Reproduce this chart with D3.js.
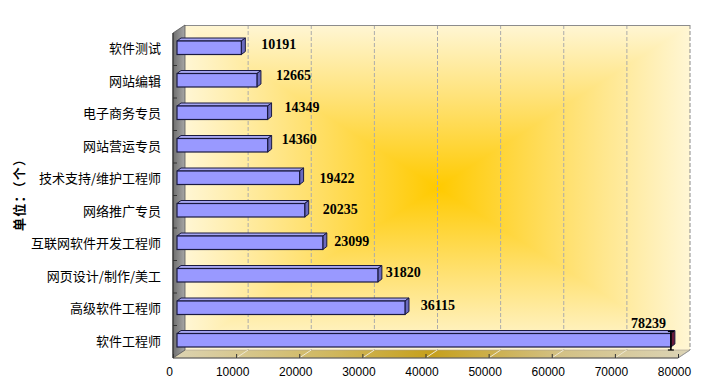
<!DOCTYPE html>
<html><head><meta charset="utf-8">
<script src="https://cdn.jsdelivr.net/npm/d3@7"></script>
<style>body{margin:0;background:#fff}</style>
</head><body>
<svg id="c" width="712" height="382"></svg>
<script>
const categories = ["软件测试","网站编辑","电子商务专员","网站营运专员","技术支持/维护工程师","网络推广专员","互联网软件开发工程师","网页设计/制作/美工","高级软件工程师","软件工程师"];
const values = [10191,12665,14349,14360,19422,20235,23099,31820,36115,78239];
const xTicks = [0,10000,20000,30000,40000,50000,60000,70000,80000];
const axisTitle = "单位：（个）";
// label nudges (layout only)
const labelDx = [16,15,13,10,16,14,7.5,4,11.7,-44];
const labelDy = [-5,-6.5,-7,-7.5,-1,-2.5,-2.3,-4.5,-3.3,-18.7];

const svg = d3.select("#c");
const defs = svg.append("defs");
const D = {dx:12, dy:-8};
const x = d3.scaleLinear().domain([0,80000]).range([173,678]);
const y = d3.scaleBand().domain(categories).range([33,358]).padding(0);
const L = x(0), R = x(80000), T = y.range()[0], B = y.range()[1];
const bL = L + D.dx, bR = R + D.dx, bT = T + D.dy, bB = B + D.dy;
const cx = (bL+bR)/2, cy = (bT+bB)/2;

function lg(id, x1,y1,x2,y2, stops){
  const g = defs.append("linearGradient").attr("id",id).attr("gradientUnits","userSpaceOnUse")
    .attr("x1",x1).attr("y1",y1).attr("x2",x2).attr("y2",y2);
  stops.forEach(s=>g.append("stop").attr("offset",s[0]).attr("stop-color",s[1]));
}
const cC = "#FFCA00", cE = "#FFF6D4";
const wst = [[0,cC],[0.55,"#FFE277"],[1,cE]];
lg("gT",cx,cy,cx,bT,wst); lg("gB",cx,cy,cx,bB,wst);
lg("gL",cx,cy,bL,cy,wst); lg("gR",cx,cy,bR,cy,wst);
lg("gH",bL,0,bR,0,[[0,cE],[0.225,"#FFE277"],[0.5,cC],[0.775,"#FFE277"],[1,cE]]);
lg("gFloor",L,0,bR,0,[[0,"#DCD3B2"],[0.3,"#D0B860"],[0.5,"#C6A01C"],[0.75,"#D3C185"],[1,"#DCD4B6"]]);
lg("gWall",L,0,bL,0,[[0,"#6E6E6E"],[1,"#A6A6A6"]]);

// back wall
svg.append("rect").attr("x",bL).attr("y",bT).attr("width",bR-bL).attr("height",bB-bT).attr("fill","url(#gH)");
const tri = [["gT",[[bL,bT],[bR,bT],[cx,cy]]],["gB",[[bL,bB],[bR,bB],[cx,cy]]],
             ["gL",[[bL,bT],[bL,bB],[cx,cy]]],["gR",[[bR,bT],[bR,bB],[cx,cy]]]];
tri.forEach(t=>svg.append("polygon").attr("points",t[1].map(p=>p.join(",")).join(" ")).attr("fill","url(#"+t[0]+")"));

// back gridlines
svg.append("g").selectAll("line").data(xTicks.slice(1)).join("line")
  .attr("x1",d=>x(d)+D.dx).attr("x2",d=>x(d)+D.dx).attr("y1",bT).attr("y2",bB)
  .attr("stroke",(d,i)=>i===xTicks.length-2?"#8A8A8A":"#ABABAB").attr("stroke-width",1).attr("stroke-dasharray","4,2");
svg.append("line").attr("x1",bL).attr("x2",bR).attr("y1",bT+0.5).attr("y2",bT+0.5).attr("stroke","#8C8C8C");

// floor
svg.append("polygon").attr("points",[[L,B],[R,B],[bR,bB],[bL,bB]].map(p=>p.join(",")).join(" "))
  .attr("fill","url(#gFloor)").attr("stroke","#A8A090").attr("stroke-width",0.6);
svg.append("g").selectAll("line").data(xTicks.slice(1,-1)).join("line")
  .attr("x1",d=>x(d)).attr("y1",B).attr("x2",d=>x(d)+D.dx).attr("y2",bB)
  .attr("stroke","#EFE9D2").attr("stroke-width",1);

// left wall
svg.append("polygon").attr("points",[[L,T],[bL,bT],[bL,bB],[L,B]].map(p=>p.join(",")).join(" "))
  .attr("fill","url(#gWall)").attr("stroke","#555").attr("stroke-width",0.8);

// axis lines
svg.append("line").attr("x1",L).attr("x2",L).attr("y1",T).attr("y2",B).attr("stroke","#333").attr("stroke-width",1.2);
svg.append("line").attr("x1",L).attr("x2",R).attr("y1",B).attr("y2",B).attr("stroke","#555").attr("stroke-width",1);
svg.append("line").attr("x1",R).attr("x2",bR).attr("y1",B).attr("y2",bB).attr("stroke","#999").attr("stroke-width",1);

// y ticks
const bounds = categories.slice(1).map(c=>y(c));
svg.append("g").selectAll("line").data(bounds).join("line")
  .attr("x1",L).attr("x2",L+4).attr("y1",d=>d).attr("y2",d=>d).attr("stroke","#333");

// x axis via d3
const xa = svg.append("g").attr("transform",`translate(0,${B})`)
  .call(d3.axisBottom(x).tickValues(xTicks).tickFormat(d3.format("d")).tickSize(-4).tickPadding(9));
xa.select(".domain").remove();
xa.selectAll(".tick line").attr("stroke","#333");
xa.selectAll(".tick text").attr("dx",-4).attr("fill","#000").style("font-family","'Liberation Sans',Arial,sans-serif").style("font-size","12px");

// category axis via d3
const ya = svg.append("g").attr("transform",`translate(${L},0)`)
  .call(d3.axisLeft(y).tickSize(0).tickPadding(12));
ya.select(".domain").remove();
ya.selectAll(".tick text").attr("fill","#000").style("font-family","'Noto Sans CJK SC',sans-serif").style("font-size","13px");

// bars
const fr = {dx:4, dy:-1.5}, bk = {dx:8, dy:-4.5};
const bh = 13.5;
const g = svg.append("g");
values.forEach((v,i)=>{
  const c = categories[i];
  const yc = y(c)+y.bandwidth()/2 + fr.dy;
  const yt = yc - bh/2, yb = yc + bh/2;
  const x0 = x(0)+fr.dx, x1 = x(v)+fr.dx;
  const ddx = bk.dx-fr.dx, ddy = bk.dy-fr.dy;
  const last = i===values.length-1;
  g.append("polygon").attr("points",[[x0,yt],[x0+ddx,yt+ddy],[x1+ddx,yt+ddy],[x1,yt]].map(p=>p.join(",")).join(" "))
    .attr("fill","#A6A6F2").attr("stroke","#1A1A40").attr("stroke-width",1).attr("stroke-linejoin","round");
  g.append("polygon").attr("points",[[x1,yt],[x1+ddx,yt+ddy],[x1+ddx,yb+ddy],[x1,yb]].map(p=>p.join(",")).join(" "))
    .attr("fill",last?"#6A1A3A":"#6A6ABE").attr("stroke","#1A1A40").attr("stroke-width",1).attr("stroke-linejoin","round");
  g.append("rect").attr("x",x0).attr("y",yt).attr("width",x1-x0).attr("height",bh)
    .attr("fill","#9999FF").attr("stroke","#1A1A40").attr("stroke-width",1.2);
  if(last){
    g.append("line").attr("x1",x1).attr("x2",x1).attr("y1",yt-2).attr("y2",B-8).attr("stroke","#000").attr("stroke-width",1.6);
    g.append("line").attr("x1",x1-3).attr("x2",x1+3).attr("y1",yt-2).attr("y2",yt-2).attr("stroke","#000").attr("stroke-width",1.2);
    g.append("line").attr("x1",x1-3).attr("x2",x1+3).attr("y1",B-8).attr("y2",B-8).attr("stroke","#000").attr("stroke-width",1.2);
  }
  g.append("text").attr("x",x(v)+bk.dx+labelDx[i]).attr("y",y(c)+y.bandwidth()/2+labelDy[i])
    .attr("dominant-baseline","central").attr("fill","#000")
    .style("font-family","'Liberation Serif','Times New Roman',serif").style("font-weight","bold").style("font-size","14px")
    .text(v);
});

// axis title
svg.append("text").attr("transform",`translate(18,192) rotate(-90)`)
  .attr("text-anchor","middle").attr("dominant-baseline","central")
  .attr("textLength",78).attr("lengthAdjust","spacing")
  .style("font-family","'Noto Sans CJK SC',sans-serif").style("font-weight","bold").style("font-size","13px")
  .text(axisTitle);
</script>
</body></html>
